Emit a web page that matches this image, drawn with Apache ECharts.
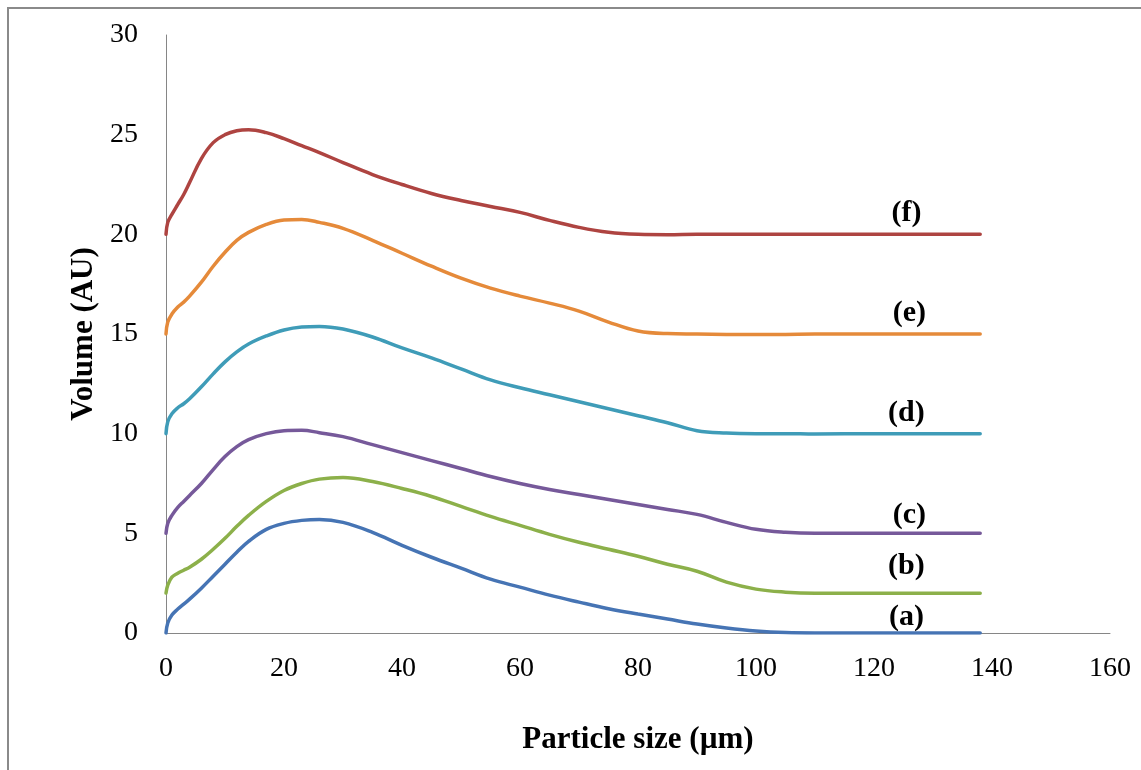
<!DOCTYPE html>
<html>
<head>
<meta charset="utf-8">
<script src="https://cdn.jsdelivr.net/npm/echarts@6/dist/echarts.min.js"></script>
<style>
  html, body { margin: 0; padding: 0; background: #fff; }
  #chart { width: 1141px; height: 770px; }
</style>
</head>
<body>
<div id="chart"></div>
<script>
// particle size (µm), shared by all curves
const sizes = [0, 0.3, 1, 2, 3, 4, 6, 8, 10, 12, 14, 17, 20, 23, 26, 30, 35, 40, 45, 50,
  55, 60, 65, 70, 75, 80, 85, 90, 95, 100, 105, 110, 120, 130, 138];

const volA = [0, 0.5, 0.9, 1.2, 1.45, 1.7, 2.25, 2.85, 3.45, 4.05, 4.6, 5.2, 5.5, 5.65, 5.7, 5.55, 5.05, 4.4, 3.8, 3.25,
  2.7, 2.3, 1.9, 1.55, 1.22, 0.95, 0.7, 0.45, 0.25, 0.1, 0.02, 0, 0, 0, 0];
const volB = [2, 2.4, 2.8, 3.0, 3.15, 3.3, 3.7, 4.2, 4.75, 5.35, 5.9, 6.6, 7.15, 7.5, 7.72, 7.8, 7.6, 7.25, 6.85, 6.35,
  5.85, 5.4, 4.95, 4.55, 4.2, 3.85, 3.45, 3.1, 2.55, 2.2, 2.05, 2, 2, 2, 2];
const volC = [5, 5.5, 5.9, 6.3, 6.6, 6.9, 7.5, 8.2, 8.85, 9.35, 9.7, 10.0, 10.15, 10.17, 10.05, 9.85, 9.45, 9.05, 8.65, 8.25,
  7.85, 7.5, 7.2, 6.95, 6.7, 6.45, 6.2, 5.95, 5.55, 5.2, 5.05, 5, 5, 5, 5];
const volD = [10, 10.6, 11.0, 11.3, 11.5, 11.75, 12.35, 13.0, 13.6, 14.1, 14.5, 14.9, 15.2, 15.35, 15.38, 15.25, 14.85, 14.3, 13.8, 13.25,
  12.7, 12.3, 11.95, 11.6, 11.25, 10.9, 10.55, 10.15, 10.03, 10, 10, 9.98, 10, 10, 10];
const volE = [15, 15.6, 16.0, 16.35, 16.6, 16.9, 17.6, 18.4, 19.1, 19.7, 20.1, 20.5, 20.72, 20.75, 20.6, 20.3, 19.7, 19.05, 18.4, 17.8,
  17.3, 16.9, 16.55, 16.15, 15.6, 15.15, 15.02, 15, 14.98, 14.97, 14.98, 15, 15, 15, 15];
const volF = [20, 20.6, 21.0, 21.5, 22.0, 22.6, 23.8, 24.6, 25.0, 25.2, 25.25, 25.1, 24.8, 24.45, 24.1, 23.6, 23.0, 22.5, 22.05, 21.7,
  21.4, 21.1, 20.7, 20.35, 20.1, 20.0, 19.98, 20, 20, 20, 20, 20, 20, 20, 20];

const curveNames = ['(a)', '(b)', '(c)', '(d)', '(e)', '(f)'];
const curveData = [volA, volB, volC, volD, volE, volF];
const colors = ['#4674b4', '#8cb04a', '#76599a', '#3f9cb8', '#e58a3a', '#ae4441'];

// where the (a)..(f) tags sit, in axis units
const tagX = [125.5, 125.5, 126, 125.5, 126, 125.5];
const tagY = [0.8, 3.35, 5.9, 11.0, 16.05, 21.05];

const chart = echarts.init(document.getElementById('chart'));

const serif = '"Liberation Serif", "Times New Roman", serif';

const series = curveData.map((vals, i) => ({
  name: curveNames[i],
  type: 'line',
  smooth: 0.4,
  symbol: 'none',
  lineStyle: { width: 3.5, color: colors[i], cap: 'round' },
  itemStyle: { color: colors[i] },
  data: sizes.map((s, k) => [s, vals[k]]),
  markPoint: {
    symbol: 'circle',
    symbolSize: 0,
    silent: true,
    label: {
      show: true,
      formatter: curveNames[i],
      color: '#000',
      fontFamily: serif,
      fontWeight: 'bold',
      fontSize: 30
    },
    data: [{ coord: [tagX[i], tagY[i]] }]
  }
}));

const option = {
  animation: false,
  backgroundColor: '#fff',
  grid: { left: 166, right: 31, top: 35, bottom: 137 },
  xAxis: {
    type: 'value',
    min: 0,
    max: 160,
    interval: 20,
    name: 'Particle size (µm)',
    nameLocation: 'middle',
    nameGap: 91,
    nameTextStyle: { fontFamily: serif, fontWeight: 'bold', fontSize: 31, color: '#000' },
    axisLine: { show: true, lineStyle: { color: '#868686', width: 1 } },
    axisTick: { show: false },
    splitLine: { show: false },
    axisLabel: { fontFamily: serif, fontSize: 28, color: '#000', margin: 22 }
  },
  yAxis: {
    type: 'value',
    min: 0,
    max: 30,
    interval: 5,
    name: 'Volume (AU)',
    nameLocation: 'middle',
    nameGap: 65,
    nameRotate: 90,
    nameTextStyle: { fontFamily: serif, fontWeight: 'bold', fontSize: 31, color: '#000' },
    axisLine: { show: true, lineStyle: { color: '#868686', width: 1 } },
    axisTick: { show: false },
    splitLine: { show: false },
    axisLabel: { fontFamily: serif, fontSize: 28, color: '#000', margin: 28 }
  },
  graphic: [
    { type: 'line', shape: { x1: 7, y1: 8, x2: 1141, y2: 8 }, style: { stroke: '#8a8a8a', lineWidth: 2 } },
    { type: 'line', shape: { x1: 8, y1: 7, x2: 8, y2: 770 }, style: { stroke: '#8a8a8a', lineWidth: 2 } }
  ],
  series: series
};

chart.setOption(option);
</script>
</body>
</html>
